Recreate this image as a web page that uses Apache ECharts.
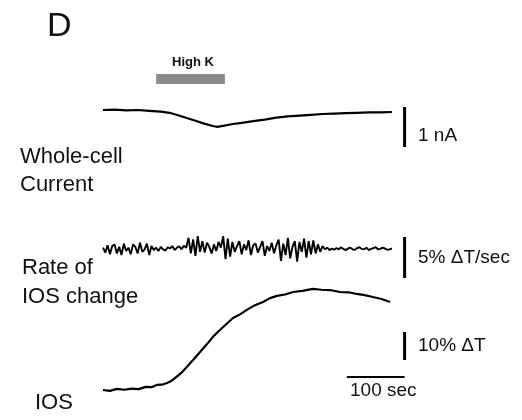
<!DOCTYPE html>
<html>
<head>
<meta charset="utf-8">
<title>High K recording</title>
<script src="https://cdn.jsdelivr.net/npm/echarts@6/dist/echarts.min.js"></script>
<style>
  html, body { margin: 0; padding: 0; background: #fff; }
  #chart { width: 522px; height: 420px; }
</style>
</head>
<body>
<div id="chart"></div>
<script>
// time in sec
var currentTime = [0, 20, 40, 60, 80, 100, 115, 130, 145, 160, 175, 190, 198, 210, 225, 240, 260, 280, 300, 320, 340, 360, 380, 400, 420, 440, 460, 480, 500]
// whole-cell current, nA (relative to start)
var currentValues = [0, 0.01, -0.01, 0.0, -0.02, -0.04, -0.07, -0.13, -0.2, -0.27, -0.34, -0.4, -0.42, -0.39, -0.35, -0.32, -0.28, -0.24, -0.19, -0.16, -0.14, -0.12, -0.1, -0.09, -0.08, -0.07, -0.06, -0.06, -0.05]

// rate of IOS change, %dT/sec, one sample every 4 sec
var rateDt = 4
var rateValues = [
  0.1, -0.5, 0.4, -0.7, 0.3, 0.5, -0.6, 0.2, -0.8, 0.6, -0.3, 0.1, -0.7, 0.5, 0.2, -0.6, 0.7, -0.4, -0.1, 0.6, -0.8, 0.3, -0.2,
  0.1, -0.3, 0.2, -0.1, -0.25, 0.15, 0.0, 0.3, -0.2, 0.1, 0.25, -0.1, 0.35, 0.1,
  1.3, -0.6, 1.1, -0.9, 1.5, -0.4, 0.9,
  -0.5, 0.7, 0.2, -0.6, 0.5, -0.3, 0.8, 0.1,
  1.5, -1.3, 1.2, -1.0,
  0.8, -0.4, 0.3, 0.9, -0.7, 0.5, -0.2, 1.0, -0.8, 0.4, 0.6, -0.5, 0.2, 0.9, -0.9, 0.3, -0.3, 0.7, -0.6, 0.4,
  1.1, -1.5, 0.6, -0.8, 1.3, -1.2, 0.2, 0.9, -1.6, 0.8, -0.4, 1.2,
  -1.1, 0.9, -0.7, 1.0, -0.6, 0.5, -0.4, 0.3,
  -0.1, 0.1, -0.2, 0.0, -0.15, 0.05, -0.1, 0.15, -0.05, -0.2, 0.0, 0.1, -0.1, -0.15, 0.05, 0.15, -0.05, -0.1, 0.1, -0.2, -0.05, 0.05, 0.15, -0.1, -0.05, 0.1, 0.0, -0.15, -0.1, 0.0
]

// IOS, %dT
var iosTime = [0, 12, 24, 37, 50, 62, 74, 84, 93, 102, 111, 118, 125, 135, 145, 157, 168, 180, 190, 200, 208, 216, 225, 237, 249, 263, 277, 289, 301, 315, 329, 345, 363, 378, 393, 410, 425, 439, 453, 467, 482, 497]
var iosValues = [0, -0.3, 0.4, 0.1, 0.5, 0.3, 1.1, 1.0, 1.8, 1.9, 2.5, 3.2, 4.3, 6.0, 8.2, 11.0, 13.6, 16.4, 18.9, 21.0, 22.5, 24.0, 25.7, 27.0, 28.6, 30.3, 31.4, 32.8, 33.6, 34.1, 35.0, 35.4, 36.1, 35.8, 35.7, 35.0, 34.9, 34.3, 33.9, 33.2, 32.5, 31.4]

// stimulus and scale bars
var highK = [92, 211]
var scaleX = 522
var currentBar = [0.075, -0.925] // 1 nA
var rateBar = [1.4, -3.6]         // 5 %dT/sec
var iosBar = [20.7, 10.7]         // 10 %dT
var timeBar = [422, 522]          // 100 sec
var timeBarY = 4.6

var font = '"Liberation Sans", Arial, Helvetica, sans-serif'
var ink = '#000'

function pairs(xs, ys) {
  return xs.map(function(x, i) { return [x, ys[i]] })
}

var rateData = rateValues.map(function(v, i) { return [i * rateDt, v] })

var chart = echarts.init(document.getElementById('chart'))

function txt(text, x, y, size, weight) {
  return {
    type: 'text',
    x: x,
    y: y,
    style: {
      text: text,
      font: (weight || 'normal') + ' ' + size + 'px ' + font,
      fill: '#111',
      verticalAlign: 'middle'
    }
  }
}

var xAx = { type: 'value', min: 0, max: 540, show: false }
var trace = function(name, idx, data, width) {
  return {
    name: name,
    type: 'line',
    xAxisIndex: idx,
    yAxisIndex: idx,
    data: data,
    symbol: 'none',
    clip: false,
    lineStyle: { color: ink, width: width },
    z: 3
  }
}

chart.setOption({
  animation: false,
  backgroundColor: '#fff',
  grid: [
    { left: 103, right: 107, top: 74, height: 76 },
    { left: 103, right: 107, top: 232.1, height: 49.2 },
    { left: 103, right: 107, top: 278, height: 117.6 }
  ],
  xAxis: [
    Object.assign({ gridIndex: 0 }, xAx),
    Object.assign({ gridIndex: 1 }, xAx),
    Object.assign({ gridIndex: 2 }, xAx)
  ],
  yAxis: [
    { gridIndex: 0, type: 'value', min: -1, max: 0.9, show: false },
    { gridIndex: 1, type: 'value', min: -4, max: 2, show: false },
    { gridIndex: 2, type: 'value', min: -2, max: 40, show: false }
  ],
  series: [
    {
      name: 'High K',
      type: 'line',
      xAxisIndex: 0,
      yAxisIndex: 0,
      data: [[highK[0], 0.775], [highK[1], 0.775]],
      symbol: 'none',
      clip: false,
      lineStyle: { color: '#8c8c8c', width: 10, cap: 'butt' }
    },
    trace('Whole-cell Current', 0, pairs(currentTime, currentValues), 2.2),
    trace('1 nA', 0, [[scaleX, currentBar[0]], [scaleX, currentBar[1]]], 3),
    trace('Rate of IOS change', 1, rateData, 1.9),
    trace('5% bar', 1, [[scaleX, rateBar[0]], [scaleX, rateBar[1]]], 3),
    trace('IOS', 2, pairs(iosTime, iosValues), 2.2),
    trace('10% bar', 2, [[scaleX, iosBar[0]], [scaleX, iosBar[1]]], 3),
    trace('100 sec', 2, [[timeBar[0], timeBarY], [timeBar[1], timeBarY]], 2)
  ],
  graphic: [
    txt('D', 47, 27, 34),
    txt('High K', 172, 62.5, 13, 'bold'),
    txt('1 nA', 418, 135.5, 19),
    txt('5% \u0394T/sec', 418, 257.5, 19),
    txt('10% \u0394T', 418, 345.5, 19),
    txt('100 sec', 350, 390.5, 19),
    txt('Whole-cell', 20, 156.5, 22),
    txt('Current', 20, 185, 22),
    txt('Rate of', 22, 268, 22),
    txt('IOS change', 22, 296.5, 22),
    txt('IOS', 35, 403, 22)
  ]
})
</script>
</body>
</html>
